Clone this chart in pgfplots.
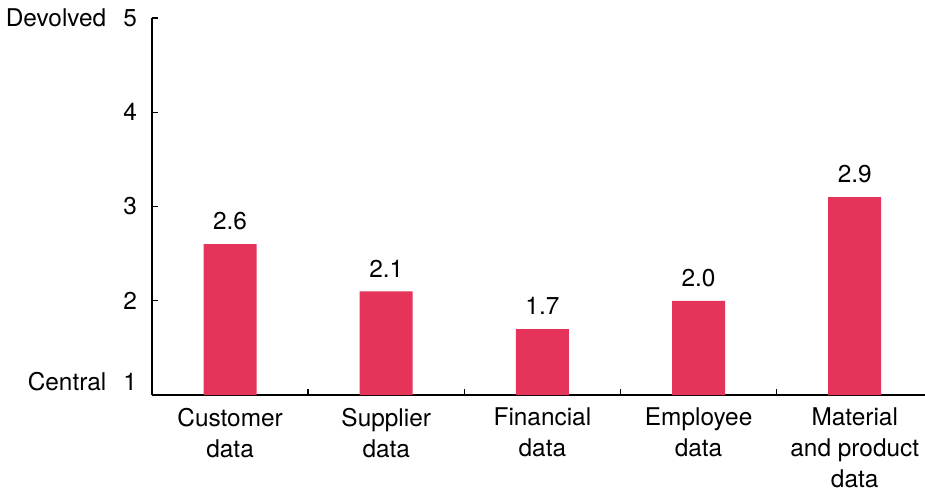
\documentclass[border=0pt]{standalone}
\usepackage{pgfplots}
\pgfplotsset{compat=1.18}
\usepackage{fontspec}
\setmainfont{TeX Gyre Heros}
\definecolor{barred}{RGB}{229,51,90}
\begin{document}
\begin{tikzpicture}
\useasboundingbox (-76pt,-49.5pt) rectangle (386.5pt,197.5pt);
\begin{axis}[
  at={(0,0)}, anchor=south west,
  scale only axis,
  width=386.5pt, height=188.5pt,
  xmin=-0.5, xmax=4.45,
  ymin=1, ymax=5,
  /pgf/number format/assume math mode=true,
  axis x line*=bottom,
  axis y line*=left,
  axis line style={line width=0.7pt, -},
  ytick={1,2,3,4,5},
  yticklabels={\raisebox{14pt}{Central\hspace{0.7em}1},2,3,4,Devolved\hspace{0.7em}5},
  xtick={0,1,2,3,4},
  xticklabels={Customer\\data,Supplier\\data,Financial\\data,Employee\\data,Material\\and product\\data},
  x tick label style={align=center, font=\fontsize{12.2}{15.5}\selectfont, yshift=-3pt},
  y tick label style={font=\fontsize{12.2}{14}\selectfont},
  major x tick style={draw=none},
  major tick length=3pt,
  ytick align=inside,
  ytick style={black, line width=0.7pt},
  yticklabel style={xshift=-4pt},
  bar width=26.5pt,
  point meta=explicit symbolic,
  clip=false,
]
\addplot[ybar, fill=barred, draw=none, nodes near coords,
  every node near coord/.append style={font=\fontsize{12.2}{14}\selectfont, yshift=3.5pt}]
  table[meta=lab] {
x y lab
0 2.6 2.6
1 2.1 2.1
2 1.7 1.7
3 2.0 2.0
4 3.1 2.9
};
% category separator ticks on the x axis
\addplot[black, line width=0.7pt, unbounded coords=jump, mark=none, point meta=none] coordinates {
(0.5,1) (0.5,1.065) (0.5,nan)
(1.5,1) (1.5,1.065) (1.5,nan)
(2.5,1) (2.5,1.065) (2.5,nan)
(3.5,1) (3.5,1.065)
};
\end{axis}
\end{tikzpicture}
\end{document}
